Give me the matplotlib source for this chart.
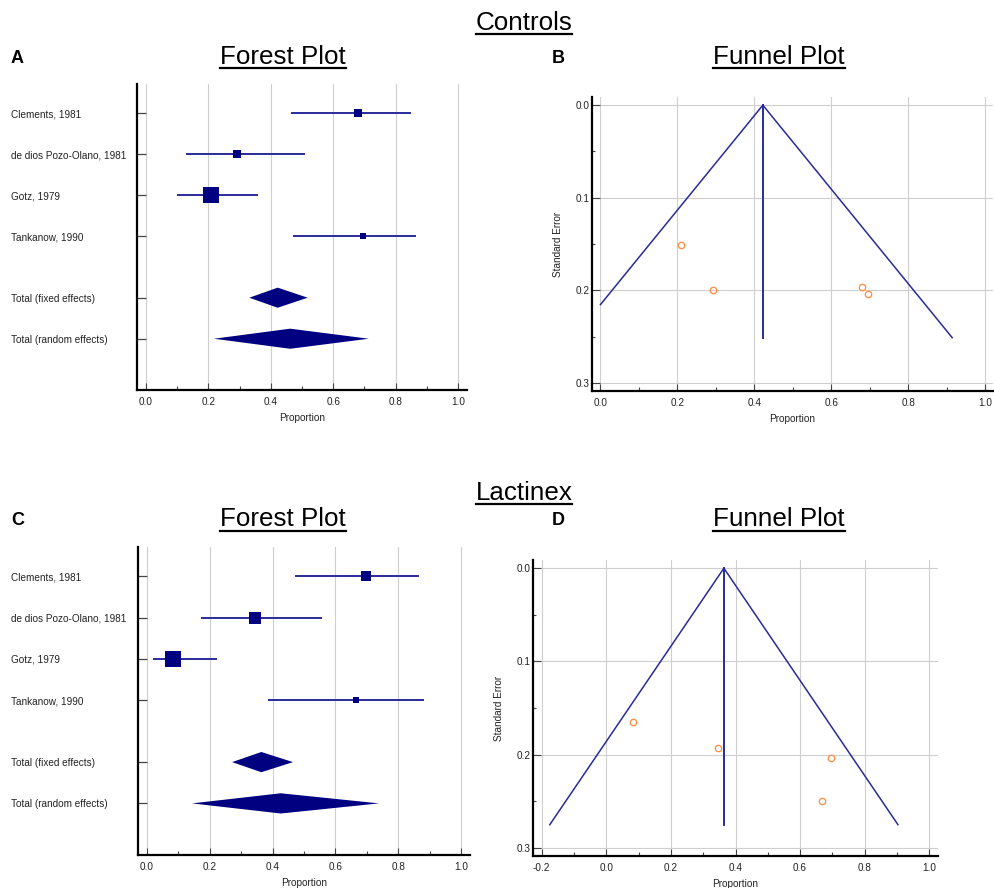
import numpy as np
import matplotlib
matplotlib.use("Agg")
import matplotlib.pyplot as plt
from matplotlib.lines import Line2D
from matplotlib.ticker import MultipleLocator, FormatStrFormatter

plt.rcParams['font.family'] = ['Liberation Sans', 'DejaVu Sans']

# study names and pooled rows
studies = ["Clements, 1981", "de dios Pozo-Olano, 1981", "Gotz, 1979", "Tankanow, 1990"]
pooled = ["Total (fixed effects)", "Total (random effects)"]

# Controls
ctrl_est = [0.679, 0.292, 0.209, 0.695]
ctrl_lo = [0.465, 0.127, 0.100, 0.471]
ctrl_hi = [0.850, 0.511, 0.359, 0.867]
ctrl_weight = [14.8, 12.3, 64.0, 9.0]
ctrl_pool_est = [0.422, 0.462]
ctrl_pool_lo = [0.331, 0.218]
ctrl_pool_hi = [0.518, 0.714]
ctrl_se = [0.196, 0.200, 0.151, 0.204]
ctrl_funnel_se = 0.251

# Lactinex
lact_est = [0.696, 0.345, 0.083, 0.667]
lact_lo = [0.470, 0.172, 0.018, 0.385]
lact_hi = [0.867, 0.556, 0.224, 0.881]
lact_weight = [19.4, 26.6, 47.8, 6.3]
lact_pool_est = [0.364, 0.426]
lact_pool_lo = [0.271, 0.143]
lact_pool_hi = [0.465, 0.739]
lact_se = [0.204, 0.193, 0.165, 0.250]
lact_funnel_se = 0.275

NAVY = '#000080'
LINE = '#2a2a9c'
ORANGE = '#ff8a3d'
GRID = '#cfcfcf'
W, H = 994, 888

fig = plt.figure(figsize=(W / 100, H / 100), dpi=100)


def px_axes(l, t, r, b):
    return fig.add_axes([l / W, 1 - b / H, (r - l) / W, (b - t) / H])


def style_axes(ax):
    for s in ['top', 'right']:
        ax.spines[s].set_visible(False)
    for s in ['left', 'bottom']:
        ax.spines[s].set_linewidth(1.6)
        ax.spines[s].set_color('black')
    ax.set_axisbelow(True)
    ax.xaxis.set_major_locator(MultipleLocator(0.2))
    ax.xaxis.set_minor_locator(MultipleLocator(0.1))
    ax.xaxis.set_major_formatter(FormatStrFormatter('%.1f'))
    ax.tick_params(axis='x', which='major', direction='in', length=5, width=0.8,
                   color='#444444', labelsize=7.2, pad=5, labelcolor='#222222')
    ax.tick_params(axis='x', which='minor', direction='in', length=3, width=0.8,
                   color='#444444')
    ax.set_xlabel("Proportion", fontsize=7.2, labelpad=4, color='#222222')


def forest(ax, est, lo, hi, weight, p_est, p_lo, p_hi, label_pad):
    rows = [1, 2, 3, 4]
    prow = [5.5, 6.5]
    wmax = max(weight)
    for y, e, a, b, w in zip(rows, est, lo, hi, weight):
        ax.plot([a, b], [y, y], color=LINE, lw=1.4, solid_capstyle='butt', zorder=2)
        side = 16 * np.sqrt(w / wmax) * 0.72
        ax.plot(e, y, marker='s', ms=side, mew=0, color=NAVY, zorder=3)
    h = 0.245
    for y, e, a, b in zip(prow, p_est, p_lo, p_hi):
        ax.fill([a, e, b, e], [y, y - h, y, y + h], color=NAVY, lw=0, zorder=3)
    ax.set_xlim(-0.029, 1.029)
    ax.set_ylim(7.75, 0.29)
    style_axes(ax)
    ax.grid(True, axis='x', which='major', color=GRID, lw=0.8)
    ax.set_yticks(rows + prow)
    ax.set_yticklabels(studies + pooled)
    ax.tick_params(axis='y', direction='in', length=6.5, width=0.9, color='#444444',
                   labelsize=7.2, pad=label_pad, labelcolor='#222222')
    for t in ax.get_yticklabels():
        t.set_ha('left')


def funnel(ax, est, se, centre, se_max, floor, xlim):
    # pseudo 95% limits
    left_x = max(centre - 1.96 * se_max, floor)
    left_y = (centre - left_x) / 1.96
    right_x = centre + 1.96 * se_max
    ax.plot([left_x, centre, right_x], [left_y, 0, se_max], color=LINE, lw=1.1, zorder=2)
    ax.plot([centre, centre], [0, se_max], color=LINE, lw=1.4, zorder=2)
    ax.plot(est, se, 'o', ms=4.6, mfc='none', mec=ORANGE, mew=0.9, zorder=3)
    ax.set_xlim(*xlim)
    ax.set_ylim(0.3086, -0.0088)
    style_axes(ax)
    ax.grid(True, which='major', color=GRID, lw=0.8)
    ax.yaxis.set_major_locator(MultipleLocator(0.1))
    ax.yaxis.set_minor_locator(MultipleLocator(0.05))
    ax.yaxis.set_major_formatter(FormatStrFormatter('%.1f'))
    ax.tick_params(axis='y', which='major', direction='in', length=6, width=0.8,
                   color='#444444', labelsize=7.2, pad=2, labelcolor='#222222')
    ax.tick_params(axis='y', which='minor', direction='in', length=2.5, width=0.8,
                   color='#444444')
    ax.set_ylabel("Standard Error", fontsize=7.2, labelpad=9, color='#222222')


axA = px_axes(137, 84, 467, 390)
forest(axA, ctrl_est, ctrl_lo, ctrl_hi, ctrl_weight, ctrl_pool_est, ctrl_pool_lo,
       ctrl_pool_hi, 126 * 0.72)

axB = px_axes(592, 97, 993, 391)
funnel(axB, ctrl_est, ctrl_se, ctrl_pool_est[0], ctrl_funnel_se, 0.0, (-0.022, 1.02))

axC = px_axes(138, 547, 470, 855)
forest(axC, lact_est, lact_lo, lact_hi, lact_weight, lact_pool_est, lact_pool_lo,
       lact_pool_hi, 127 * 0.72)

axD = px_axes(533, 560, 938, 856)
funnel(axD, lact_est, lact_se, lact_pool_est[0], lact_funnel_se, -1.0, (-0.227, 1.027))

# headings
underlined = []


def heading(x, y, s, size=18.7):
    t = fig.text(x / W, 1 - y / H, s, ha='center', va='baseline', fontsize=size)
    underlined.append(t)


def letter(x, y, s):
    fig.text(x / W, 1 - y / H, s, ha='left', va='baseline', fontsize=13, fontweight='bold')


heading(524, 29.5, "Controls")
heading(283, 63.5, "Forest Plot")
heading(779, 63.5, "Funnel Plot")
letter(11, 62.7, "A")
letter(552, 62.7, "B")

heading(524, 499.5, "Lactinex")
heading(283, 526, "Forest Plot")
heading(779, 526, "Funnel Plot")
letter(11, 525, "C")
letter(552, 525, "D")

fig.canvas.draw()
r = fig.canvas.get_renderer()
for t in underlined:
    bb = t.get_window_extent(renderer=r)
    x0, x1 = bb.x0 / W, bb.x1 / W
    y = 1 - (H - (t.get_position()[1] * H) + 4.5) / H
    fig.add_artist(Line2D([x0, x1], [y, y], transform=fig.transFigure, color='black', lw=1.6))

fig.savefig("out.png", dpi=100)
